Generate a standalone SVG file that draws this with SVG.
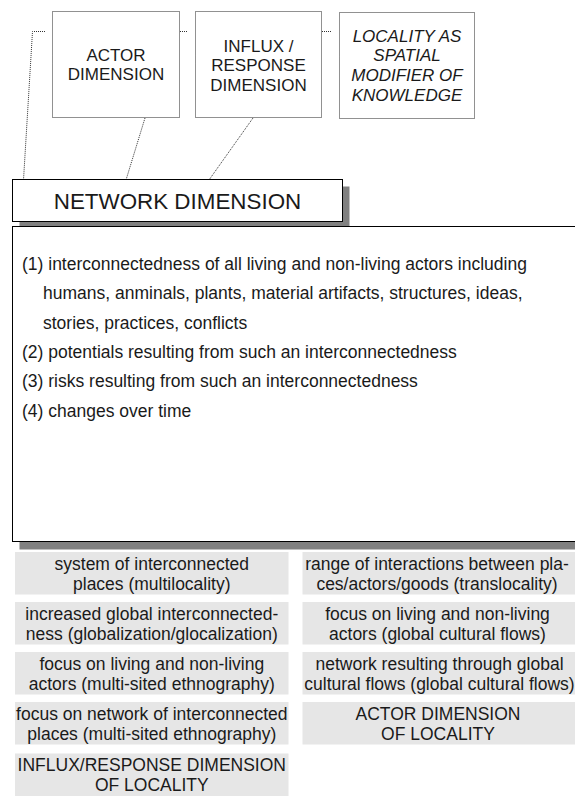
<svg xmlns="http://www.w3.org/2000/svg" width="575" height="796" viewBox="0 0 575 796">
  <style>
    .t { font-family: "Liberation Sans", Arial, sans-serif; fill: #1a1a1a; }
    .dim { font-size: 17px; text-anchor: middle; }
    .it { font-style: italic; }
    .dotbox { fill: #ffffff; stroke: #222222; stroke-width: 1; stroke-dasharray: 1 1; }
    .conn { fill: none; stroke: #333333; stroke-width: 1; stroke-dasharray: 1 1; }
    .frame { fill: #ffffff; stroke: #000000; stroke-width: 1; }
    .shadow { fill: #808080; }
    .tag { fill: #e6e6e6; }
    .body { font-size: 17.5px; }
    .cell { font-size: 17.5px; text-anchor: middle; }
  </style>

  <!-- dotted connectors between the dimension boxes -->
  <g id="connectors">
    <polyline class="conn" points="45,31.5 32.5,31.5 23.5,180"/>
    <line class="conn" x1="180" y1="31.5" x2="187" y2="31.5"/>
    <line class="conn" x1="322" y1="31.5" x2="331" y2="31.5"/>
    <line class="conn" x1="145" y1="118" x2="126" y2="180"/>
    <line class="conn" x1="253" y1="118" x2="209" y2="180"/>
  </g>

  <g id="actor-dimension">
    <rect class="dotbox" x="52.5" y="11.5" width="127" height="106"/>
    <text class="t dim" x="116" y="61">ACTOR</text>
    <text class="t dim" x="116" y="80">DIMENSION</text>
  </g>

  <g id="influx-dimension">
    <rect class="dotbox" x="195.5" y="11.5" width="126" height="106"/>
    <text class="t dim" x="258.5" y="51.5">INFLUX /</text>
    <text class="t dim" x="258.5" y="71">RESPONSE</text>
    <text class="t dim" x="258.5" y="90.5">DIMENSION</text>
  </g>

  <g id="locality-modifier">
    <rect class="dotbox" x="339.5" y="12.5" width="135" height="106"/>
    <text class="t dim it" x="407" y="41.5">LOCALITY AS</text>
    <text class="t dim it" x="407" y="61">SPATIAL</text>
    <text class="t dim it" x="407" y="81">MODIFIER OF</text>
    <text class="t dim it" x="407" y="100.5">KNOWLEDGE</text>
  </g>

  <g id="network-dimension">
    <rect class="shadow" x="19.5" y="186.5" width="330" height="42"/>
    <rect class="frame" x="12.5" y="179.5" width="330" height="42"/>
    <text class="t" x="177.5" y="209" font-size="22.4" text-anchor="middle">NETWORK DIMENSION</text>
  </g>

  <g id="network-details">
    <rect class="shadow" x="19.5" y="233.5" width="600" height="316"/>
    <rect class="frame" x="12.5" y="226.5" width="600" height="315"/>
    <text class="t body" x="22" y="270">(1) interconnectedness of all living and non-living actors including</text>
    <text class="t body" x="43" y="299.3">humans, anminals, plants, material artifacts, structures, ideas,</text>
    <text class="t body" x="43" y="328.6">stories, practices, conflicts</text>
    <text class="t body" x="22" y="357.9">(2) potentials resulting from such an interconnectedness</text>
    <text class="t body" x="22" y="387.2">(3) risks resulting from such an interconnectedness</text>
    <text class="t body" x="22" y="416.5">(4) changes over time</text>
  </g>

  <g id="multilocality">
    <rect class="tag" x="15" y="552" width="273.5" height="42.5"/>
    <text class="t cell" x="151.8" y="569.5">system of interconnected</text>
    <text class="t cell" x="151.8" y="589.5">places (multilocality)</text>
  </g>
  <g id="globalization">
    <rect class="tag" x="15" y="602" width="273.5" height="42.5"/>
    <text class="t cell" x="151.8" y="619.5">increased global interconnected-</text>
    <text class="t cell" x="151.8" y="639.5">ness (globalization/glocalization)</text>
  </g>
  <g id="multi-sited-actors">
    <rect class="tag" x="15" y="652" width="273.5" height="42.5"/>
    <text class="t cell" x="151.8" y="669.5">focus on living and non-living</text>
    <text class="t cell" x="151.8" y="689.5">actors (multi-sited ethnography)</text>
  </g>
  <g id="multi-sited-places">
    <rect class="tag" x="15" y="702" width="273.5" height="42.5"/>
    <text class="t cell" x="151.8" y="719.5">focus on network of interconnected</text>
    <text class="t cell" x="151.8" y="739.5">places (multi-sited ethnography)</text>
  </g>
  <g id="influx-locality">
    <rect class="tag" x="15" y="753.5" width="273.5" height="45"/>
    <text class="t cell" x="151.8" y="771">INFLUX/RESPONSE DIMENSION</text>
    <text class="t cell" x="151.8" y="791">OF LOCALITY</text>
  </g>

  <g id="translocality">
    <rect class="tag" x="302.5" y="552" width="273.5" height="42.5"/>
    <text class="t cell" x="437" y="569.5">range of interactions between pla-</text>
    <text class="t cell" x="437" y="589.5">ces/actors/goods (translocality)</text>
  </g>
  <g id="flows-actors">
    <rect class="tag" x="302.5" y="602" width="273.5" height="42.5"/>
    <text class="t cell" x="437.5" y="619.5">focus on living and non-living</text>
    <text class="t cell" x="437.5" y="639.5">actors (global cultural flows)</text>
  </g>
  <g id="flows-network">
    <rect class="tag" x="302.5" y="652" width="273.5" height="42.5"/>
    <text class="t cell" x="439.5" y="669.5">network resulting through global</text>
    <text class="t cell" x="439.5" y="689.5">cultural flows (global cultural flows)</text>
  </g>
  <g id="actor-locality">
    <rect class="tag" x="302.5" y="702" width="273.5" height="42.5"/>
    <text class="t cell" x="438" y="719.5">ACTOR DIMENSION</text>
    <text class="t cell" x="438" y="739.5">OF LOCALITY</text>
  </g>
</svg>
